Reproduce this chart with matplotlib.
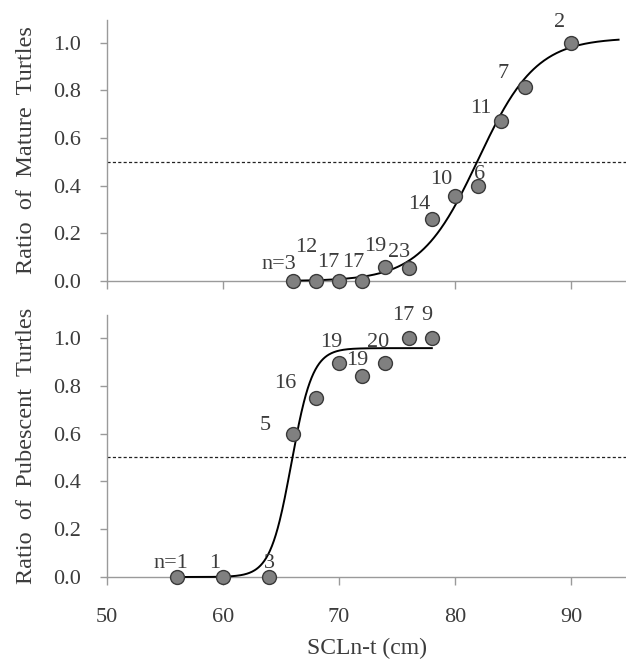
import numpy as np
import matplotlib
matplotlib.use("Agg")
import matplotlib.pyplot as plt

plt.rcParams['font.family'] = ['Liberation Serif', 'DejaVu Serif']

# ---- Data: mature turtles (top panel) ----
mature_x = [66, 68, 70, 72, 74, 76, 78, 80, 82, 84, 86, 90]
mature_y = [0.0, 0.0, 0.0, 0.0, 0.06, 0.055, 0.26, 0.355, 0.40, 0.67, 0.815, 1.0]
mature_n = ["n=3", "12", "17", "17", "19", "23", "14", "10", "6", "11", "7", "2"]
mature_lab_x = [64.8, 67.2, 69.1, 71.2, 73.1, 75.2, 76.9, 78.8, 82.1, 82.2, 84.1, 89.0]
mature_lab_y = [0.07, 0.14, 0.077, 0.077, 0.146, 0.118, 0.32, 0.425, 0.445, 0.724, 0.87, 1.086]
# logistic fit parameters (asymptote, slope, midpoint) and curve range
mature_fit = (1.02, 0.40, 82.0)
mature_fit_range = (66, 94.1)

# ---- Data: pubescent turtles (bottom panel) ----
pub_x = [56, 60, 64, 66, 68, 70, 72, 74, 76, 78]
pub_y = [0.0, 0.0, 0.0, 0.60, 0.749, 0.893, 0.839, 0.896, 1.0, 1.0]
pub_n = ["n=1", "1", "3", "5", "16", "19", "19", "20", "17", "9"]
pub_lab_x = [55.5, 59.3, 64.0, 63.6, 65.4, 69.3, 71.55, 73.4, 75.5, 77.6]
pub_lab_y = [0.058, 0.058, 0.058, 0.635, 0.81, 0.98, 0.905, 0.98, 1.093, 1.093]
pub_fit = (0.957, 1.1, 65.9)
pub_fit_range = (56, 78)

x_ticks = [50, 60, 70, 80, 90]
y_ticks = [0.0, 0.2, 0.4, 0.6, 0.8, 1.0]
y_labels_top = "Ratio  of  Mature  Turtles"
y_labels_bot = "Ratio  of  Pubescent  Turtles"
x_label = "SCLn-t (cm)"

TXT = "#3c3c3c"
AX = "#9a9a9a"
FS = 16

fig = plt.figure(figsize=(6.26, 6.63), dpi=100)
ax1 = fig.add_axes([0.171, 0.576, 0.829, 0.394])
ax2 = fig.add_axes([0.171, 0.1297, 0.829, 0.395])


def logistic(x, p):
    a, k, x0 = p
    return a / (1.0 + np.exp(-k * (x - x0)))


def panel(ax, xs, ys, ns, lx, ly, fit, frange, ylabel, show_xlabels):
    xx = np.linspace(frange[0], frange[1], 400)
    ax.plot(xx, logistic(xx, fit), color="black", lw=1.4, zorder=3, clip_on=False)
    ax.axhline(0.5, color="#222222", lw=0.9, ls=(0, (2.5, 1.8)), zorder=2)
    ax.plot(xs, ys, 'o', ms=10, mfc="#808080", mec="#3a3a3a", mew=1.0,
            zorder=4, clip_on=False)
    for t, x, y in zip(ns, lx, ly):
        ax.text(x, y, t, ha="center", va="center", fontsize=FS, color=TXT,
                zorder=5)
    ax.set_xlim(50, 94.74)
    ax.set_ylim(0, 1.095)
    ax.set_xticks(x_ticks)
    ax.set_yticks(y_ticks)
    ax.set_yticklabels([f"{v:.1f}" for v in y_ticks])
    for s in ["top", "right"]:
        ax.spines[s].set_visible(False)
    for s in ["left", "bottom"]:
        ax.spines[s].set_color(AX)
        ax.spines[s].set_linewidth(1.0)
    ax.tick_params(axis="both", colors=AX, labelcolor=TXT, labelsize=FS,
                   direction="out", width=1.0)
    ax.tick_params(axis="x", length=6, pad=16)
    ax.tick_params(axis="y", length=5, pad=14)
    if not show_xlabels:
        ax.set_xticklabels([])
    ax.set_ylabel(ylabel, fontsize=17.5, color=TXT)


panel(ax1, mature_x, mature_y, mature_n, mature_lab_x, mature_lab_y,
      mature_fit, mature_fit_range, y_labels_top, False)
panel(ax2, pub_x, pub_y, pub_n, pub_lab_x, pub_lab_y,
      pub_fit, pub_fit_range, y_labels_bot, True)
ax2.set_xlabel(x_label, fontsize=17, color=TXT, labelpad=8)
ax1.yaxis.set_label_coords(-0.135, 0.5)
ax2.yaxis.set_label_coords(-0.135, 0.5)

fig.savefig("out.png", dpi=100)
